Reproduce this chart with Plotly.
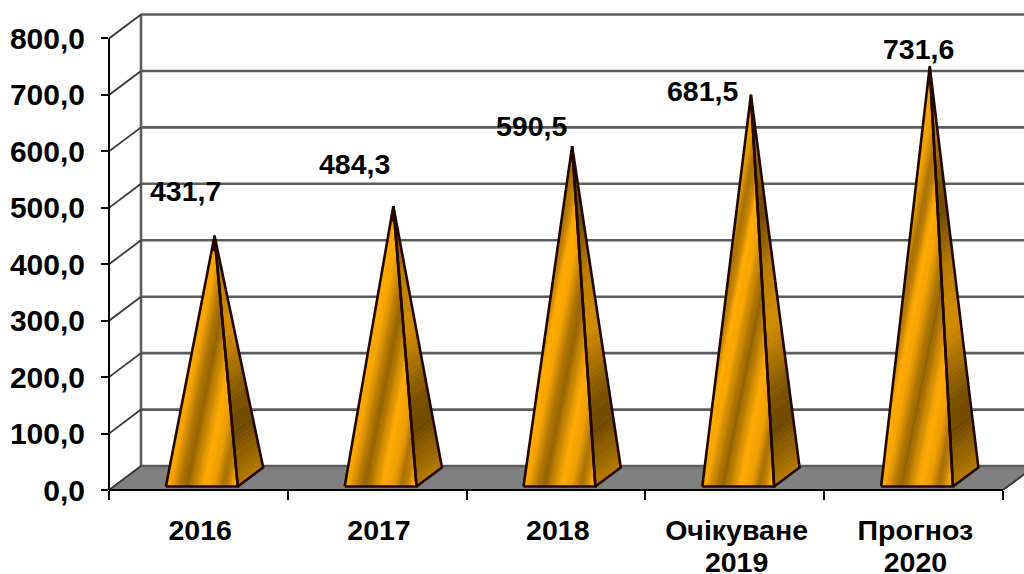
import plotly.graph_objects as go

first_lines = ["2016", "2017", "2018", "Очікуване", "Прогноз"]
second_lines = ["", "", "", "2019", "2020"]
values = [431.7, 484.3, 590.5, 681.5, 731.6]
y_ticks = [0, 100, 200, 300, 400, 500, 600, 700, 800]
label_dx = [-29, -39, -41, -48, -11]
label_dy = [-45, -42, -20, -4, -18]

# plot-area geometry (px), and the oblique depth projection in data units
L, R, T, B = 109, 1003, 38.5, 490.5
W, H = 1024, 574
PLOT_TOP = 8
PX_X = (R - L) / 5
PX_Y = (B - T) / 800
DX, DY = 32 / PX_X, 24 / PX_Y
N_CAT = len(values)
YMAX = 800
XL, XR = 0.292, 0.694
D0, D1 = 0.146, 0.94
APEX_D_X, APEX_D_Y = 0.543, 0.44
X_RANGE_TOP = (W - L) / PX_X
Y_RANGE_TOP = (B - PLOT_TOP) / PX_Y

GOLD = (255, 170, 0)
DARK = (104, 68, 0)
OUT = "#230800"
LEVELS = 24


def proj(x, v, d):
    return (x + d * DX, v + d * DY)


def clip(poly, f, lo, hi):
    def half(pts, g):
        out = []
        for k in range(len(pts)):
            p, q = pts[k], pts[(k + 1) % len(pts)]
            gp, gq = g(p), g(q)
            if gp >= 0:
                out.append(p)
            if (gp >= 0) != (gq >= 0):
                s = gp / (gp - gq)
                out.append((p[0] + s * (q[0] - p[0]), p[1] + s * (q[1] - p[1])))
        return out
    pts = half(poly, lambda p: f(p) - lo)
    if pts:
        pts = half(pts, lambda p: hi - f(p))
    return pts


def wave(t, stops):
    t = t % 1.0
    for (a, ca), (b, cb) in zip(stops, stops[1:]):
        if a <= t <= b:
            return ca + (cb - ca) * (t - a) / (b - a)
    return stops[-1][1]


FRONT_STOPS = [(0, 1.0), (0.1, 0.95), (0.24, 0.5), (0.34, 0.28), (0.46, 0.65), (0.58, 1.0), (0.72, 0.88), (0.84, 0.42), (0.92, 0.6), (1.0, 1.0)]
SIDE_STOPS = [(0, 0.55), (0.24, 0.05), (0.40, 0.15), (0.72, 0.72), (1.0, 0.55)]

groups = {}


def add_bands(poly, f, shade, step):
    us = [f(p) for p in poly]
    u = min(us)
    top = max(us)
    while u < top:
        pts = clip(poly, f, u, u + step)
        if len(pts) >= 3:
            lvl = round(shade(u + step / 2) * (LEVELS - 1))
            g = groups.setdefault(lvl, ([], []))
            g[0].extend([p[0] for p in pts] + [pts[0][0], None])
            g[1].extend([p[1] for p in pts] + [pts[0][1], None])
        u += step


outline_x, outline_y = [], []
tip_x, tip_y = [], []
SLANT = 0.2 * PX_Y / PX_X
TIP_PX = 15
for i, v in enumerate(values):
    a = proj(i + XL, 0, D0)
    b = proj(i + XR, 0, D0)
    c = proj(i + XR, 0, D1)
    apex = (i + (XL + XR) / 2 + APEX_D_X * DX, v + APEX_D_Y * DY)
    w = XR - XL
    x0 = a[0]
    add_bands([a, b, apex],
              lambda p, x0=x0, w=w: (p[0] - x0 - SLANT * p[1]) / w,
              lambda u: wave(u * 1.0 + 0.06, FRONT_STOPS), 0.025)
    y0 = a[1]
    add_bands([b, c, apex],
              lambda p, x0=b[0], y0=y0: (p[1] - y0) / 400 - (p[0] - x0) * 0.6,
              lambda u: wave(u, SIDE_STOPS), 0.02)
    for tri in ([a, b, apex, a], [b, c, apex, b]):
        outline_x += [p[0] for p in tri] + [None]
        outline_y += [p[1] for p in tri] + [None]
        t = clip(tri[:3], lambda p: p[1], apex[1] - TIP_PX / PX_Y, apex[1] + 1)
        tip_x += [p[0] for p in t] + [t[0][0], None]
        tip_y += [p[1] for p in t] + [t[0][1], None]

fig = go.Figure()

# floor
fig.add_trace(go.Scatter(
    x=[0, N_CAT, N_CAT + DX, DX, 0], y=[0, 0, DY, DY, 0], mode="lines",
    fill="toself", fillcolor="#808080", line=dict(color="#5f5f5f", width=1.5),
    hoverinfo="skip", showlegend=False))

# back wall grid and left wall grid
gx, gy, sx, sy = [], [], [], []
for t in y_ticks:
    gx += [DX, N_CAT + DX, None]
    gy += [t + DY, t + DY, None]
    sx += [0, DX, None]
    sy += [t, t + DY, None]
fig.add_trace(go.Scatter(x=gx, y=gy, mode="lines", line=dict(color="#5c5c5c", width=2.6),
                         hoverinfo="skip", showlegend=False))
fig.add_trace(go.Scatter(x=[DX, DX], y=[DY, YMAX + DY], mode="lines", line=dict(color="#5c5c5c", width=2.6),
                         hoverinfo="skip", showlegend=False))
fig.add_trace(go.Scatter(x=sx, y=sy, mode="lines", line=dict(color="#3a3a3a", width=1.8),
                         hoverinfo="skip", showlegend=False))
fig.add_trace(go.Scatter(x=[N_CAT, N_CAT + DX], y=[0, DY], mode="lines", line=dict(color="#3a3a3a", width=1.8),
                         hoverinfo="skip", showlegend=False))

# pyramid faces, grouped by gradient shade
for lvl in sorted(groups):
    q = lvl / (LEVELS - 1)
    rgb = [round(DARK[k] + (GOLD[k] - DARK[k]) * q) for k in range(3)]
    col = "rgb(%d,%d,%d)" % tuple(rgb)
    xs, ys = groups[lvl]
    fig.add_trace(go.Scatter(x=xs, y=ys, mode="lines", fill="toself", fillcolor=col,
                             line=dict(color=col, width=0.8),
                             hoverinfo="skip", showlegend=False))
fig.add_trace(go.Scatter(x=tip_x, y=tip_y, mode="lines", fill="toself", fillcolor="#1a0600",
                         line=dict(color="#1a0600", width=1), hoverinfo="skip", showlegend=False))
fig.add_trace(go.Scatter(x=outline_x, y=outline_y, mode="lines", line=dict(color=OUT, width=2.6),
                         hoverinfo="skip", showlegend=False))

LABEL_FONT = dict(family="Liberation Sans, Arial, sans-serif", size=28.5, color="#000000")
for i, v in enumerate(values):
    fig.add_annotation(x=i + (XL + XR) / 2 + APEX_D_X * DX, y=v + APEX_D_Y * DY,
                       text="<b>%s</b>" % ("%.1f" % v).replace(".", ","),
                       showarrow=False, xshift=label_dx[i], yshift=-label_dy[i],
                       font=LABEL_FONT, xanchor="center", yanchor="middle")

centers = [i + 0.51 for i in range(N_CAT)]
fig.add_trace(go.Scatter(x=centers, y=[0] * N_CAT, xaxis="x2", mode="none", hoverinfo="skip", showlegend=False))
fig.add_trace(go.Scatter(x=centers, y=[0] * N_CAT, xaxis="x3", mode="none", hoverinfo="skip", showlegend=False))

X_TICK = dict(family="Liberation Sans, Arial, sans-serif", size=28.5, color="#000000", weight="bold")
Y_TICK = dict(family="Liberation Sans, Arial, sans-serif", size=30, color="#000000", weight="bold")
base_x = dict(range=[0, X_RANGE_TOP], showgrid=False, zeroline=False, side="bottom", automargin=False)
fig.update_layout(
    width=W, height=H, autosize=False, separators=", ",
    margin=dict(l=L, r=0, t=PLOT_TOP, b=H - B, pad=0, autoexpand=False),
    paper_bgcolor="white", plot_bgcolor="white",
    showlegend=False,
    xaxis=dict(**base_x, tickmode="array", tickvals=list(range(N_CAT + 1)), ticktext=[""] * (N_CAT + 1),
               ticks="outside", ticklen=9, tickwidth=1.8, tickcolor="#000000", showline=False),
    xaxis2=dict(**base_x, overlaying="x", anchor="y", tickmode="array", tickvals=centers, ticktext=first_lines,
                ticks="", tickfont=X_TICK, ticklabelstandoff=20, showline=False),
    xaxis3=dict(**base_x, overlaying="x", anchor="y", tickmode="array", tickvals=centers, ticktext=second_lines,
                ticks="", tickfont=X_TICK, ticklabelstandoff=52, showline=False),
    yaxis=dict(range=[0, Y_RANGE_TOP], tickmode="array", tickvals=y_ticks, tickformat=".1f",
               ticks="outside", ticklen=7, tickwidth=1.8, tickcolor="#000000",
               showline=False, showgrid=False, zeroline=False, automargin=False,
               tickfont=Y_TICK, ticklabelstandoff=10),
    shapes=[
        dict(type="line", xref="x", yref="paper", x0=0, x1=N_CAT, y0=0, y1=0,
             line=dict(color="#000000", width=2), layer="above"),
        dict(type="line", xref="paper", yref="y", x0=0, x1=0, y0=0, y1=YMAX,
             line=dict(color="#000000", width=2), layer="above"),
    ],
)
fig.write_html("out.html", config={"displayModeBar": False},
               post_script="document.body.style.margin='0';document.body.style.overflow='hidden';")
